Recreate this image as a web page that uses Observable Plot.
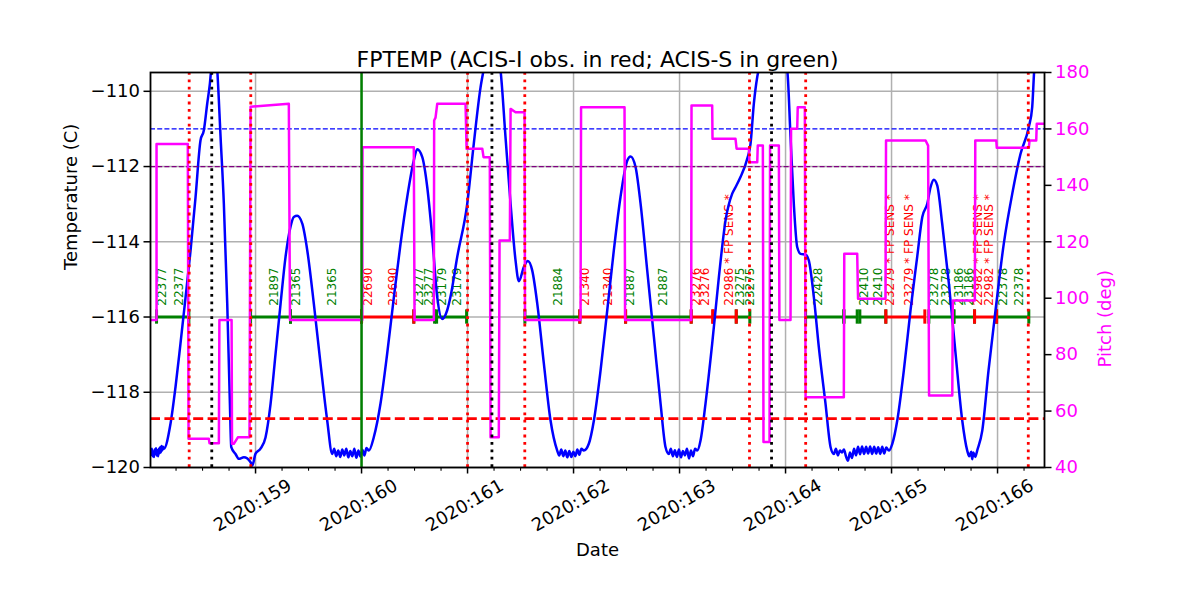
<!DOCTYPE html>
<html><head><meta charset="utf-8">
<script src="https://cdn.jsdelivr.net/npm/d3@7"></script>
<script src="https://cdn.jsdelivr.net/npm/@observablehq/plot@0.6"></script>
<style>body{margin:0;background:#fff;}</style>
</head><body><div id="chart"></div>
<script>
// ---- data (day-of-year 2020, values) ----
const temperature = [
[158.009,-119.55],[158.016,-119.66],[158.022,-119.5],[158.029,-119.7],[158.035,-119.58],[158.042,-119.72],[158.048,-119.52],[158.055,-119.64],[158.061,-119.49],[158.068,-119.68],[158.074,-119.55],[158.081,-119.7],[158.087,-119.5],[158.094,-119.62],[158.100,-119.46],[158.107,-119.6],[158.113,-119.43],[158.120,-119.55],[158.127,-119.45],[158.135,-119.5],
[158.198,-118.83],[158.245,-117.86],[158.292,-116.7],[158.340,-115.47],[158.387,-114.23],[158.434,-112.81],[158.481,-111.30],[158.512,-111.04],[158.544,-110.33],[158.569,-109.8],[158.594,-109.0],[158.613,-108.6],[158.639,-109.44],[158.670,-111.21],[158.701,-112.99],[158.733,-115.65],[158.758,-118.3],[158.771,-119.46],[158.811,-119.64],[158.842,-119.77],[158.890,-119.73],[158.953,-119.86],[158.969,-119.95],[159.000,-119.63],[159.047,-119.5],[159.094,-119.2],[159.142,-118.3],[159.189,-116.97],[159.236,-115.65],[159.283,-114.4],[159.330,-113.6],[159.361,-113.34],[159.393,-113.31],[159.441,-113.52],[159.488,-114.23],[159.550,-115.65],[159.613,-117.24],[159.676,-118.75],
[159.724,-119.64],[159.742,-119.5],[159.761,-119.7],[159.780,-119.55],[159.799,-119.72],[159.818,-119.52],[159.837,-119.68],[159.856,-119.5],[159.875,-119.73],[159.894,-119.56],[159.913,-119.7],[159.932,-119.5],[159.951,-119.74],[159.970,-119.55],[159.989,-119.71],[160.008,-119.53],[160.027,-119.68],[160.046,-119.48],[160.069,-119.55],
[160.116,-119.19],[160.179,-118.3],[160.242,-116.97],[160.305,-115.47],[160.368,-114.05],[160.431,-112.81],[160.493,-111.84],[160.525,-111.54],[160.573,-111.75],[160.620,-112.55],[160.667,-113.88],[160.714,-115.47],[160.761,-116.05],[160.808,-115.82],[160.840,-115.45],[160.903,-114.4],[160.997,-112.99],[161.059,-111.39],[161.123,-109.89],[161.154,-109.4],[161.217,-108.5],[161.283,-109.0],[161.311,-109.44],[161.358,-111.21],[161.406,-112.99],[161.453,-114.5],[161.484,-115.05],[161.531,-114.67],[161.569,-114.51],[161.610,-114.76],[161.658,-115.65],[161.720,-117.24],[161.783,-118.75],
[161.846,-119.55],[161.865,-119.68],[161.884,-119.52],[161.903,-119.7],[161.922,-119.55],[161.941,-119.73],[161.960,-119.56],[161.979,-119.72],[161.998,-119.58],[162.017,-119.7],[162.036,-119.52],[162.055,-119.66],[162.074,-119.5],[162.097,-119.55],
[162.144,-119.37],[162.192,-118.75],[162.255,-117.42],[162.318,-115.82],[162.380,-114.23],[162.443,-112.81],[162.507,-111.84],[162.538,-111.73],[162.585,-112.01],[162.632,-112.98],[162.695,-114.76],[162.758,-116.53],[162.821,-118.3],[162.868,-119.46],
[162.899,-119.64],[162.918,-119.5],[162.937,-119.7],[162.956,-119.54],[162.975,-119.72],[162.994,-119.52],[163.013,-119.73],[163.032,-119.56],[163.051,-119.68],[163.070,-119.5],[163.089,-119.76],[163.108,-119.55],[163.127,-119.7],[163.146,-119.5],[163.167,-119.55],
[163.198,-119.28],[163.245,-118.3],[163.308,-116.71],[163.371,-114.94],[163.434,-113.43],[163.497,-112.72],[163.528,-112.55],[163.575,-112.28],[163.639,-111.79],[163.670,-111.39],[163.701,-110.33],[163.733,-109.62],[163.748,-109.4],[163.858,-108.0],[164.016,-109.44],[164.047,-111.21],[164.078,-112.99],[164.110,-114.14],[164.142,-114.32],[164.189,-114.34],[164.220,-114.5],[164.267,-115.47],[164.314,-116.8],[164.377,-118.3],[164.425,-119.46],
[164.456,-119.64],[164.475,-119.5],[164.494,-119.68],[164.513,-119.55],[164.532,-119.6],[164.551,-119.52],[164.570,-119.7],[164.589,-119.82],[164.608,-119.6],[164.627,-119.75],[164.646,-119.5],[164.665,-119.68],[164.684,-119.45],[164.703,-119.65],[164.722,-119.44],[164.741,-119.64],[164.760,-119.45],[164.779,-119.63],[164.798,-119.44],[164.817,-119.64],[164.836,-119.45],[164.855,-119.63],[164.874,-119.46],[164.893,-119.64],[164.912,-119.45],[164.931,-119.63],[164.950,-119.47],[164.975,-119.55],
[165.007,-119.37],[165.054,-118.75],[165.116,-117.42],[165.179,-115.82],[165.242,-114.4],[165.290,-113.34],[165.337,-112.99],[165.368,-112.55],[165.399,-112.35],[165.431,-112.5],[165.478,-113.52],[165.541,-115.11],[165.604,-116.97],[165.667,-118.75],
[165.714,-119.55],[165.733,-119.7],[165.752,-119.58],[165.761,-119.78],[165.771,-119.6],[165.790,-119.72],[165.808,-119.55],
[165.856,-119.02],[165.915,-117.42],[165.981,-115.82],[166.059,-114.05],[166.139,-112.72],[166.217,-111.66],[166.295,-110.95],[166.327,-110.42],[166.346,-109.44],[166.443,-107.5]
];

const pitch = [
[158.009,92.3],[158.066,92.3],[158.066,154.7],[158.361,154.7],[158.368,50.2],[158.559,50.2],[158.566,48.6],[158.654,48.6],[158.659,92.3],[158.774,92.3],[158.778,48.4],[158.795,48.4],[158.833,50.7],[158.943,50.7],[158.953,167.9],[159.314,168.9],[159.325,92.3],[160.007,92.3],[160.009,153.5],[160.493,153.5],[160.500,92.3],[160.682,92.3],[160.685,163.0],[160.698,164.0],[160.714,168.9],[160.981,168.9],[160.991,153.0],[161.139,153.0],[161.151,150.0],[161.210,150.0],[161.217,50.7],[161.295,50.7],[161.302,120.5],[161.399,120.5],[161.406,167.1],[161.453,165.9],[161.538,165.9],[161.542,92.3],[162.066,92.3],[162.071,167.7],[162.481,167.7],[162.486,92.3],[163.110,92.3],[163.113,168.3],[163.308,168.3],[163.311,156.5],[163.528,156.5],[163.538,153.0],[163.654,153.0],[163.660,148.2],[163.733,148.2],[163.738,154.1],[163.786,154.1],[163.792,49.0],[163.849,49.0],[163.854,154.1],[163.937,154.1],[163.942,92.3],[164.047,92.3],[164.052,160.1],[164.110,160.1],[164.115,167.7],[164.182,167.7],[164.189,64.9],[164.550,64.9],[164.554,115.8],[164.676,115.8],[164.684,99.8],[164.943,99.8],[164.948,155.9],[165.321,155.9],[165.345,154.1],[165.354,65.5],[165.573,65.5],[165.578,99.2],[165.786,99.2],[165.790,155.9],[165.988,155.9],[165.993,153.3],[166.295,153.3],[166.302,155.9],[166.365,155.9],[166.370,161.8],[166.443,161.8]
];

const obsStart = [158.066,158.953,159.330,160.000,160.493,160.708,161.541,162.059,162.491,163.110,163.314,163.535,164.189,164.550,164.701,164.946,165.352,165.588,165.783,165.991];
const obsStop  = [158.371,159.330,160.000,160.493,160.689,160.991,162.059,162.491,163.110,163.314,163.535,163.663,164.550,164.676,164.946,165.314,165.588,165.783,165.991,166.295];
const obsInst  = ["S","S","S","I","S","S","S","I","S","I","I","S","S","S","S","I","S","S","I","S"];

const labelDays = [158.120,158.276,159.179,159.384,159.724,160.059,160.299,160.541,160.635,160.761,160.903,161.852,162.113,162.323,162.538,162.846,163.160,163.245,163.465,163.575,163.663,164.311,164.739,164.871,164.984,165.163,165.399,165.519,165.635,165.729,165.818,165.918,166.054,166.201];
const labelTexts = ["22377","22377","21897","21365","21365","22690","22690","23277","23277","23179","23179","21884","21340","21340","21887","21887","23276","23276","22986 * FP SENS *","23275","23275","22428","22410","22410","23279 * FP SENS *","23279 * FP SENS *","23278","23278","23186","23186","22982 * FP SENS *","22982 * FP SENS *","22378","22378"];
const labelInst = ["S","S","S","S","S","I","I","S","S","S","S","S","I","I","S","S","I","I","I","S","S","S","S","S","I","I","S","S","S","S","I","I","S","S"];

const redDotted = [158.374,158.955,161.0,161.54,163.66,164.19,166.29];
const blackDotted = [158.587,161.23,163.868];
const greenLine = [160.0];
const limitBlue = -111.0, limitPurple = -112.0, limitRed = -118.7;
const obsLevel = -116;

const majorDays = [159,160,161,162,163,164,165,166];
const minorDays = [158.25,158.5,158.75,159.25,159.5,159.75,160.25,160.5,160.75,161.25,161.5,161.75,162.25,162.5,162.75,163.25,163.5,163.75,164.25,164.5,164.75,165.25,165.5,165.75,166.25];
const tempTicks = [-120,-118,-116,-114,-112,-110];
const pitchTicks = [40,60,80,100,120,140,160,180];

// ---- scales ----
const tDomain = [-120, -109.5], pDomain = [40, 180];
const toT = p => tDomain[0] + (p - pDomain[0]) * (tDomain[1] - tDomain[0]) / (pDomain[1] - pDomain[0]);
const fromT = t => pDomain[0] + (t - tDomain[0]) * (pDomain[1] - pDomain[0]) / (tDomain[1] - tDomain[0]);

const obs = obsStart.map((s, i) => ({start: s, stop: obsStop[i], inst: obsInst[i]}));
const ends = obs.flatMap(o => [{x: o.start, inst: o.inst}, {x: o.stop, inst: o.inst}]);
const labels = labelDays.map((d, i) => ({day: d, text: labelTexts[i], inst: labelInst[i]}));
const tickHalf = 0.19;
const fmt = d3.format("d");

const chart = Plot.plot({
  width: 1200, height: 600,
  marginLeft: 150, marginRight: 156, marginTop: 72, marginBottom: 133,
  style: {fontFamily: "DejaVu Sans", fontSize: "18px", background: "white", overflow: "visible"},
  x: {domain: [158.009, 166.443], axis: null},
  y: {domain: tDomain, axis: null},
  marks: [
    Plot.gridX(majorDays, {stroke: "#b0b0b0", strokeOpacity: 1, strokeWidth: 1.5}),
    Plot.gridY(tempTicks, {stroke: "#b0b0b0", strokeOpacity: 1, strokeWidth: 1.5}),
    Plot.ruleY(obs.filter(o => o.inst === "S"), {x1: "start", x2: "stop", y: obsLevel, stroke: "green", strokeWidth: 3}),
    Plot.ruleY(obs.filter(o => o.inst === "I"), {x1: "start", x2: "stop", y: obsLevel, stroke: "red", strokeWidth: 3}),
    Plot.ruleX(ends.filter(e => e.inst === "S"), {x: "x", y1: obsLevel - tickHalf, y2: obsLevel + tickHalf, stroke: "green", strokeWidth: 3}),
    Plot.ruleX(ends.filter(e => e.inst === "I"), {x: "x", y1: obsLevel - tickHalf, y2: obsLevel + tickHalf, stroke: "red", strokeWidth: 3}),
    Plot.text(labels.filter(l => l.inst === "S"), {x: "day", y: -115.7, text: "text", fill: "green", rotate: -90, textAnchor: "start", fontSize: 12}),
    Plot.text(labels.filter(l => l.inst === "I"), {x: "day", y: -115.7, text: "text", fill: "red", rotate: -90, textAnchor: "start", fontSize: 12}),
    Plot.line(temperature, {x: d => d[0], y: d => d[1], stroke: "blue", strokeWidth: 2.5, curve: "monotone-x", clip: true}),
    Plot.ruleY([limitBlue], {stroke: "blue", strokeWidth: 1.3, strokeDasharray: "5,2.2"}),
    Plot.ruleY([limitPurple], {stroke: "purple", strokeWidth: 1.3, strokeDasharray: "5,2.2"}),
    Plot.ruleY([limitRed], {stroke: "red", strokeWidth: 2.6, strokeDasharray: "10,4.4"}),
    Plot.line(pitch, {x: d => d[0], y: d => toT(d[1]), stroke: "magenta", strokeWidth: 2.5, clip: true}),
    Plot.ruleX(redDotted, {stroke: "red", strokeWidth: 2.8, strokeDasharray: "2.8,4.6"}),
    Plot.ruleX(blackDotted, {stroke: "black", strokeWidth: 2.8, strokeDasharray: "2.8,4.6"}),
    Plot.ruleX(greenLine, {stroke: "green", strokeWidth: 2.5}),
    Plot.axisX(minorDays, {tickSize: 3.7, tickFormat: () => "", label: null, strokeWidth: 1.1}),
    Plot.axisX(majorDays, {tickSize: 6.5, tickFormat: () => "", label: null, strokeWidth: 1.5}),
    Plot.text(majorDays, {x: d => d, frameAnchor: "bottom", text: d => `2020:${d}`, rotate: -30, dy: 43, textAnchor: "middle", fontSize: 18}),
    Plot.axisY(tempTicks, {anchor: "left", tickSize: 6.5, tickPadding: 4, tickFormat: fmt, label: null, strokeWidth: 1.5, fontSize: 18}),
    Plot.axisY(pitchTicks.map(toT), {anchor: "right", tickSize: 6.5, tickPadding: 4, tickFormat: t => fmt(Math.round(fromT(t))), label: null, stroke: "black", fill: "magenta", strokeWidth: 1.5, fontSize: 18}),
    Plot.frame({stroke: "black", strokeWidth: 1.8}),
    Plot.text(["FPTEMP (ACIS-I obs. in red; ACIS-S in green)"], {frameAnchor: "top", dy: -6, lineAnchor: "bottom", fontSize: 22}),
    Plot.text(["Temperature (C)"], {frameAnchor: "left", dx: -79, rotate: -90, fontSize: 18}),
    Plot.text(["Pitch (deg)"], {frameAnchor: "right", dx: 61, rotate: -90, fontSize: 18, fill: "magenta"}),
    Plot.text(["Date"], {frameAnchor: "bottom", dy: 88, fontSize: 18})
  ]
});
document.getElementById("chart").appendChild(chart);
</script>
</body></html>
